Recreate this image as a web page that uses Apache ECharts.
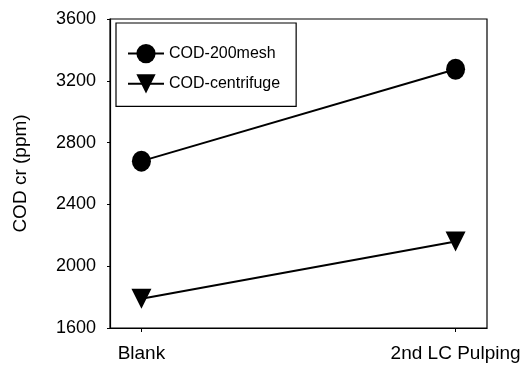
<!DOCTYPE html>
<html>
<head>
<meta charset="utf-8">
<script src="https://cdn.jsdelivr.net/npm/echarts@6/dist/echarts.min.js"></script>
<style>
  html, body { margin: 0; padding: 0; background: #fff; }
  #chart { width: 531px; height: 368px; }
</style>
</head>
<body>
<div id="chart"></div>
<script>
// Treatments along the x axis
const categories = ['Blank', '2nd LC Pulping'];
// COD values (ppm)
const cod200mesh = [2680, 3275];
const codCentrifuge = [1790, 2160];
// Y axis ticks
const yTicks = [1600, 2000, 2400, 2800, 3200, 3600];

const FONT = '"Liberation Sans", Arial, sans-serif';
const chart = echarts.init(document.getElementById('chart'));

const pts = arr => arr.map((v, i) => [i, v]);

chart.setOption({
  animation: false,
  grid: { left: 110, right: 44, top: 19, bottom: 40, show: true, borderColor: '#000', borderWidth: 1.2 },
  legend: {
    left: 116, top: 23,
    orient: 'vertical',
    padding: [21, 16, 13, 11],
    itemGap: 11,
    itemWidth: 36, itemHeight: 24,
    backgroundColor: '#fff',
    borderColor: '#000', borderWidth: 1.2,
    textStyle: { fontFamily: FONT, fontSize: 16, color: '#000', letterSpacing: -0.3 },
    data: ['COD-200mesh', 'COD-centrifuge']
  },
  xAxis: {
    type: 'value', min: -0.1, max: 1.1,
    splitLine: { show: false },
    axisLine: { onZero: false, lineStyle: { color: '#000', width: 1.2 } },
    axisTick: { show: true, customValues: [0, 1], length: 4, inside: false, lineStyle: { color: '#000' } },
    axisLabel: {
      customValues: [0, 1], margin: 16,
      formatter: v => categories[Math.round(v)],
      fontFamily: FONT, fontSize: 19, color: '#000'
    }
  },
  yAxis: {
    type: 'value', min: yTicks[0], max: yTicks[yTicks.length - 1], interval: 400,
    name: 'COD cr (ppm)', nameLocation: 'middle', nameGap: 80, nameRotate: 90,
    nameTextStyle: { fontFamily: FONT, fontSize: 19, color: '#000', letterSpacing: 0.5 },
    splitLine: { show: false },
    axisLine: { show: true, onZero: false, lineStyle: { color: '#000', width: 1.2 } },
    axisTick: { show: true, length: 3, lineStyle: { color: '#000' } },
    axisLabel: {
      margin: 14, fontFamily: FONT, fontSize: 18, color: '#000', letterSpacing: 1,
      formatter: v => String(v)
    }
  },
  series: [
    {
      name: 'COD-200mesh', type: 'line', data: pts(cod200mesh),
      symbol: 'circle', symbolSize: [19, 21],
      lineStyle: { color: '#000', width: 2 }, itemStyle: { color: '#000' }
    },
    {
      name: 'COD-centrifuge', type: 'line', data: pts(codCentrifuge),
      symbol: 'triangle', symbolRotate: 180, symbolSize: [20, 20],
      lineStyle: { color: '#000', width: 2 }, itemStyle: { color: '#000' }
    }
  ]
});
</script>
</body>
</html>
